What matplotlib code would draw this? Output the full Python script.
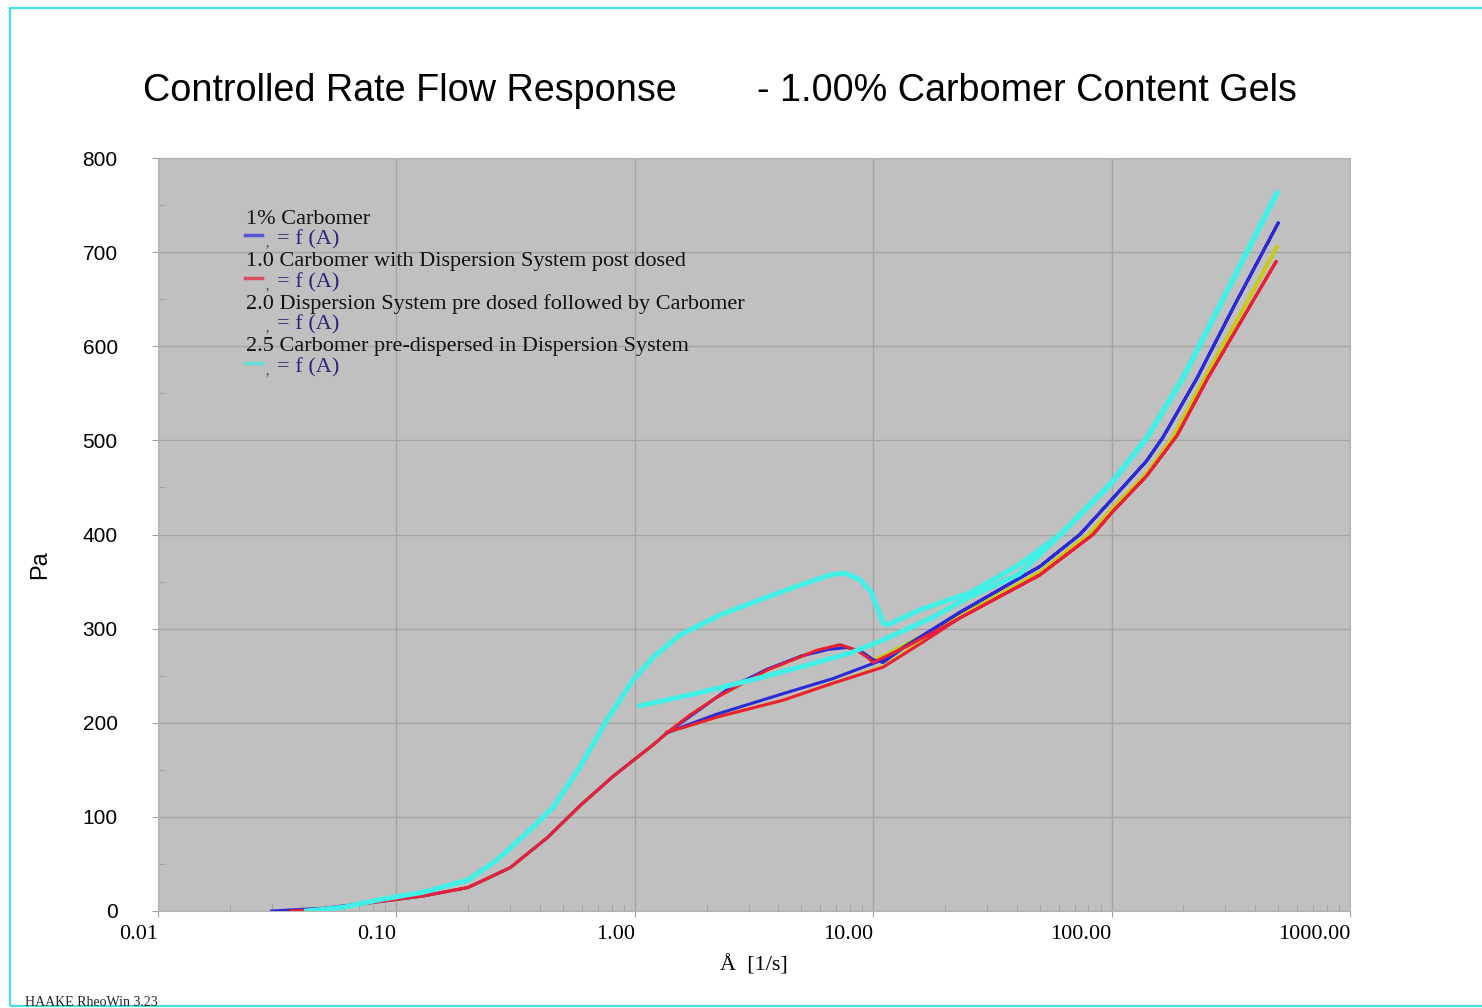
import matplotlib
matplotlib.use('Agg')
import matplotlib.pyplot as plt
from matplotlib.lines import Line2D
from matplotlib.patches import Rectangle

# shear rate [1/s] and shear stress [Pa], up ramp followed by down ramp
# 1% Carbomer (blue)
c1_rate = [0.030, 0.05, 0.085, 0.13, 0.20, 0.30, 0.43, 0.59, 0.81, 1.02, 1.2, 1.36, 1.87, 2.5, 3.6,
           5.0, 6.5, 7.8, 9.0, 10.0, 11.0, 13.8, 23, 50, 73.6, 100, 140, 164, 228, 330, 500,
           330, 228, 164, 140, 100, 73.6, 50, 23, 16, 11, 6.8, 4.2, 2.2, 1.6, 1.36]
c1_tau = [0, 3, 10, 16, 25, 46, 78, 112, 143, 163, 177, 189, 214, 237, 257,
          271, 278, 280, 275, 267, 264, 282, 317, 366, 400, 437, 478, 503, 566, 645, 731,
          645, 566, 503, 478, 437, 400, 366, 317, 292, 267, 247, 231, 209, 196, 189]

# 1.0 Carbomer with Dispersion System post dosed (red)
c2_rate = [0.036, 0.05, 0.085, 0.13, 0.20, 0.30, 0.43, 0.59, 0.81, 1.02, 1.2, 1.36, 1.7, 2.21, 3.59,
           5.81, 7.26, 8.5, 9.4, 10.0, 11.0, 13.8, 23, 50, 83.6, 100, 140, 188, 253, 350, 490,
           350, 253, 188, 140, 100, 83.6, 50, 23, 16, 11, 6.78, 4.19, 2.21, 1.6, 1.36]
c2_tau = [0, 2, 10, 16, 25, 46, 78, 112, 143, 163, 177, 189, 208, 227, 256,
          277, 283, 277, 270, 264, 269, 281, 311, 357, 400, 423, 462, 505, 566, 627, 690,
          627, 566, 505, 462, 423, 400, 357, 311, 285, 259, 242, 224, 206, 195, 190]

# 2.0 Dispersion System pre dosed followed by Carbomer (yellow)
c3_rate = [0.04, 0.05, 0.085, 0.13, 0.20, 0.30, 0.43, 0.59, 0.81, 1.02, 1.2, 1.36, 1.7, 2.21, 3.59,
           5.81, 7.26, 8.5, 9.4, 10.0, 11.0, 13.8, 23, 50, 80, 100, 140, 180, 245, 350, 495,
           350, 245, 180, 140, 100, 80, 50, 23, 16, 11, 6.78, 4.19, 2.21, 1.6, 1.36]
c3_tau = [0, 2, 10, 16, 25, 46, 78, 112, 143, 163, 177, 189, 208, 227, 256,
          277, 282, 277, 271, 267, 271, 284, 313, 360, 400, 427, 465, 503, 566, 636, 706,
          636, 566, 503, 465, 427, 400, 360, 313, 287, 260, 242, 224, 206, 195, 190]

# 2.5 Carbomer pre-dispersed in Dispersion System (cyan)
c4_rate = [0.042, 0.06, 0.085, 0.13, 0.20, 0.264, 0.363, 0.454, 0.589, 0.764, 0.98, 1.2, 1.54,
           2.3, 3.3, 4.9, 6.6, 7.6, 8.8, 9.8, 11.0, 11.5, 15.7, 25.5, 41, 61, 100, 141, 199, 300, 494,
           300, 199, 141, 100, 61, 41, 25, 17.8, 11, 8, 4.9, 3.04, 1.87, 1.05]
c4_tau = [0, 4, 12, 20, 33, 54, 86, 110, 153, 203, 245, 270, 293,
          315, 330, 346, 357, 359, 352, 339, 306, 304, 320, 338, 368, 400, 455, 503, 566, 655, 763,
          655, 566, 503, 455, 400, 358, 333, 312, 288, 274, 259, 245, 232, 218]

x_ticks = [0.01, 0.1, 1, 10, 100, 1000]
x_labels = ['0.01', '0.10', '1.00', '10.00', '100.00', '1000.00']
y_ticks = [0, 100, 200, 300, 400, 500, 600, 700, 800]

legend_names = ['1% Carbomer',
                '1.0 Carbomer with Dispersion System post dosed',
                '2.0 Dispersion System pre dosed followed by Carbomer',
                '2.5 Carbomer pre-dispersed in Dispersion System']
legend_colors = ['#2a2ad8', '#e8203a', None, '#40f0e6']

W, H = 1482, 1008
SERIF = 'Liberation Serif'
SANS = 'Liberation Sans'


def fx(px):
    return px / W


def fy(py):
    return 1 - py / H


fig = plt.figure(figsize=(W / 100, H / 100), dpi=100)
ax = fig.add_axes([fx(158), fy(911), fx(1350) - fx(158), fy(158) - fy(911)])
ax.set_facecolor('#c0c0c0')

ax.plot(c3_rate, c3_tau, color='#c8cc10', lw=2.4, zorder=3)
ax.plot(c1_rate, c1_tau, color='#2a2ad8', lw=2.2, zorder=4)
ax.plot(c2_rate, c2_tau, color='#e8203a', lw=2.2, zorder=5)
ax.plot(c4_rate, c4_tau, color='#40f0e6', lw=3.6, zorder=6)

ax.set_xscale('log')
ax.set_xlim(0.01, 1000)
ax.set_ylim(0, 800)
ax.set_xticks(x_ticks)
ax.set_xticklabels(x_labels, fontfamily=SERIF, fontsize=16, ha='right')
ax.set_yticks(y_ticks)
ax.set_yticklabels([str(v) for v in y_ticks], fontfamily=SANS, fontsize=15)
ax.set_yticks(range(50, 800, 100), minor=True)
ax.tick_params(axis='both', which='major', length=4, color='#a0a0a0', direction='out')
ax.tick_params(axis='x', which='major', pad=6)
ax.tick_params(axis='y', which='major', pad=25)
ax.tick_params(axis='both', which='minor', length=5, color='#a0a0a0', direction='in')
ax.tick_params(axis='x', which='minor', labelbottom=False)
ax.grid(True, which='major', color='#a4a4a4', lw=1.0)
ax.set_axisbelow(True)
for s in ax.spines.values():
    s.set_color('#b4b4b4')

ax.set_xlabel('Å  [1/s]', fontfamily=SERIF, fontsize=16, labelpad=8)
fig.text(fx(40), fy(565), 'Pa', rotation=90, ha='center', va='center',
         fontfamily=SANS, fontsize=17)

# title in two pieces, as in the original
fig.text(fx(143), fy(101), 'Controlled Rate Flow Response', fontfamily=SANS,
         fontsize=27.2, va='baseline', ha='left')
fig.text(fx(757), fy(101), '- 1.00% Carbomer Content Gels', fontfamily=SANS,
         fontsize=27.2, va='baseline', ha='left')

# legend written line by line inside the plot
for i, (name, col) in enumerate(zip(legend_names, legend_colors)):
    y0 = 219 + i * 42.5
    fig.text(fx(246), fy(y0), name, fontfamily=SERIF, fontsize=16,
             va='center', ha='left', color='#111111')
    y1 = y0 + 21
    if col is not None:
        fig.add_artist(Line2D([fx(245), fx(262)], [fy(y1 - 5), fy(y1 - 5)],
                              color=col, lw=2.5, alpha=0.7, transform=fig.transFigure))
    fig.text(fx(266), fy(y1 + 3), ',', fontfamily=SERIF, fontsize=10,
             va='center', ha='left', color='#333366')
    fig.text(fx(277), fy(y1), '= f (A)', fontfamily=SERIF, fontsize=16,
             va='center', ha='left', color='#26267a')

fig.text(fx(25), fy(996), 'HAAKE RheoWin 3.23', fontfamily=SERIF, fontsize=10,
         va='top', ha='left', color='#222222')

fig.add_artist(Rectangle((fx(10), fy(1006)), fx(1500) - fx(10), fy(8) - fy(1006),
                         fill=False, edgecolor='#48e0e0', lw=1.6,
                         transform=fig.transFigure, clip_on=False))

fig.savefig('out.png', dpi=100)
